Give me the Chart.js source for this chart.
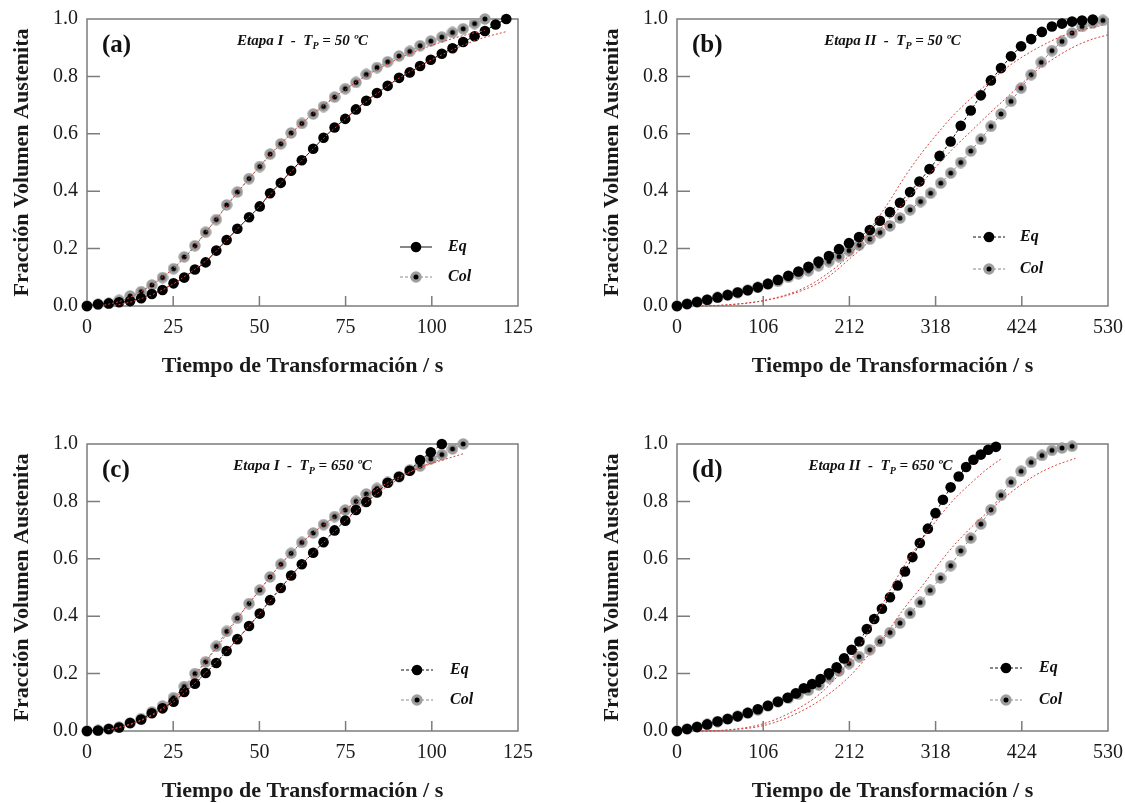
<!DOCTYPE html>
<html>
<head>
<meta charset="utf-8">
<title>Fracción Volumen Austenita</title>
<script src="https://cdn.jsdelivr.net/npm/chart.js@4.4.1/dist/chart.umd.min.js"></script>
<style>
  html, body { margin: 0; padding: 0; background: #fff; overflow: hidden; }
  #wrap { position: relative; width: 1125px; height: 803px; }
  .panel { position: absolute; width: 535px; height: 380px; }
</style>
</head>
<body>
<div id="wrap">
  <div class="panel" style="left:0;top:0"><canvas id="chart-a" width="535" height="380"></canvas></div>
  <div class="panel" style="left:590px;top:0"><canvas id="chart-b" width="535" height="380"></canvas></div>
  <div class="panel" style="left:0;top:425px"><canvas id="chart-c" width="535" height="380"></canvas></div>
  <div class="panel" style="left:590px;top:425px"><canvas id="chart-d" width="535" height="380"></canvas></div>
</div>
<script>
/* Austenite volume fraction vs transformation time, four panels */

// ── Axis ticks ──
var yTicks = [0, 0.2, 0.4, 0.6, 0.8, 1.0];
var xTicksI = [0, 25, 50, 75, 100, 125];
var xTicksII = [0, 106, 212, 318, 424, 530];

// ── (a) Etapa I, TP = 50 ºC ──
var aEqT = [0, 3.2, 6.3, 9.3, 12.5, 15.7, 18.8, 21.9, 25.1, 28.2, 31.3, 34.4, 37.5, 40.5, 43.6, 47.0, 50.1, 53.1, 56.2, 59.2, 62.3, 65.6, 68.6, 71.8, 74.9, 78.0, 81.0, 84.1, 87.2, 90.5, 93.6, 96.6, 99.7, 102.9, 106.0, 109.1, 112.4, 115.4, 118.5, 121.6];
var aEqF = [0, 0.006, 0.009, 0.013, 0.017, 0.027, 0.042, 0.056, 0.079, 0.099, 0.127, 0.152, 0.193, 0.230, 0.269, 0.309, 0.347, 0.393, 0.429, 0.471, 0.508, 0.548, 0.586, 0.622, 0.652, 0.685, 0.715, 0.742, 0.767, 0.795, 0.814, 0.836, 0.858, 0.879, 0.898, 0.920, 0.940, 0.958, 0.981, 1.0];
var aColT = [0, 3.2, 6.3, 9.3, 12.5, 15.7, 18.8, 21.9, 25.1, 28.2, 31.3, 34.4, 37.5, 40.5, 43.6, 47.0, 50.1, 53.1, 56.2, 59.2, 62.3, 65.6, 68.6, 71.8, 74.9, 78.0, 81.0, 84.1, 87.2, 90.5, 93.6, 96.6, 99.7, 102.9, 106.0, 109.1, 112.4, 115.4];
var aColF = [0, 0.006, 0.009, 0.020, 0.035, 0.050, 0.073, 0.099, 0.130, 0.171, 0.210, 0.257, 0.301, 0.352, 0.397, 0.444, 0.486, 0.529, 0.565, 0.603, 0.636, 0.669, 0.695, 0.728, 0.757, 0.779, 0.807, 0.831, 0.851, 0.871, 0.887, 0.907, 0.923, 0.937, 0.953, 0.966, 0.984, 1.0];
var aEqFitT = [8, 12, 16, 20, 25, 30, 35, 40, 45, 50, 55, 60, 65, 70, 75, 80, 85, 90, 95, 100, 105, 110, 115, 121.6];
var aEqFitF = [0.002, 0.012, 0.027, 0.045, 0.077, 0.117, 0.163, 0.222, 0.286, 0.347, 0.413, 0.478, 0.540, 0.600, 0.652, 0.703, 0.748, 0.790, 0.826, 0.858, 0.887, 0.913, 0.935, 0.956];
var aColFitT = [5, 10, 15, 20, 25, 30, 35, 40, 45, 50, 55, 60, 65, 70, 75, 80, 85, 90, 95, 100, 105, 110, 115.4];
var aColFitF = [0.003, 0.018, 0.045, 0.085, 0.130, 0.190, 0.265, 0.340, 0.415, 0.485, 0.550, 0.610, 0.665, 0.712, 0.755, 0.795, 0.830, 0.860, 0.886, 0.908, 0.928, 0.945, 0.960];

// ── (b) Etapa II, TP = 50 ºC ──
var bEqT = [0, 12.4, 24.7, 37.1, 49.9, 62.3, 74.6, 87.0, 99.4, 111.8, 124.1, 136.9, 149.3, 161.6, 174.0, 186.8, 199.2, 211.5, 223.9, 237.1, 249.5, 261.9, 274.2, 286.6, 298.1, 310.5, 322.9, 336.5, 348.9, 361.2, 373.6, 386.0, 398.4, 410.7, 423.1, 435.5, 448.7, 461.0, 473.4, 485.8, 498.1, 511.3];
var bEqF = [0, 0.007, 0.014, 0.022, 0.030, 0.038, 0.047, 0.055, 0.065, 0.077, 0.091, 0.105, 0.120, 0.137, 0.155, 0.174, 0.198, 0.219, 0.240, 0.265, 0.297, 0.327, 0.360, 0.397, 0.434, 0.477, 0.523, 0.573, 0.628, 0.681, 0.734, 0.786, 0.829, 0.870, 0.905, 0.930, 0.955, 0.974, 0.984, 0.991, 0.995, 0.998];
var bColT = [0, 12.4, 24.7, 37.1, 49.9, 62.3, 74.6, 87.0, 99.4, 111.8, 124.1, 136.9, 149.3, 161.6, 174.0, 186.8, 199.2, 211.5, 223.9, 237.1, 249.5, 261.9, 274.2, 286.6, 299.5, 311.8, 324.3, 336.5, 348.9, 361.2, 373.6, 386.0, 398.4, 410.7, 423.1, 435.5, 447.9, 461.0, 473.4, 485.8, 498.1, 511.3, 523.7];
var bColF = [0, 0.007, 0.014, 0.021, 0.030, 0.038, 0.047, 0.056, 0.065, 0.076, 0.086, 0.100, 0.112, 0.123, 0.140, 0.155, 0.172, 0.193, 0.212, 0.233, 0.256, 0.279, 0.306, 0.335, 0.364, 0.393, 0.428, 0.463, 0.500, 0.540, 0.581, 0.626, 0.669, 0.713, 0.759, 0.806, 0.849, 0.890, 0.922, 0.951, 0.974, 0.986, 0.995];
var bEqFitT = [30, 60, 108, 150, 176, 213, 238, 260, 280, 300, 320, 340, 362, 386, 410, 444, 478, 510, 523];
var bEqFitF = [0, 0.004, 0.020, 0.055, 0.095, 0.180, 0.270, 0.360, 0.450, 0.530, 0.600, 0.665, 0.725, 0.785, 0.840, 0.900, 0.945, 0.970, 0.978];
var bColFitT = [30, 60, 108, 150, 180, 213, 238, 260, 280, 300, 320, 340, 362, 382, 403, 424, 444, 465, 486, 508, 530];
var bColFitF = [0, 0.003, 0.019, 0.050, 0.090, 0.166, 0.230, 0.300, 0.362, 0.425, 0.490, 0.550, 0.610, 0.665, 0.720, 0.775, 0.825, 0.865, 0.900, 0.927, 0.945];

// ── (c) Etapa I, TP = 650 ºC ──
var cEqT = [0, 3.2, 6.3, 9.3, 12.5, 15.7, 18.8, 21.9, 25.1, 28.2, 31.3, 34.4, 37.5, 40.5, 43.6, 47.0, 50.1, 53.1, 56.2, 59.2, 62.3, 65.6, 68.6, 71.8, 74.9, 78.0, 81.0, 84.1, 87.2, 90.5, 93.6, 96.6, 99.7, 102.9];
var cEqF = [0, 0.002, 0.007, 0.012, 0.028, 0.040, 0.062, 0.079, 0.102, 0.136, 0.165, 0.202, 0.237, 0.279, 0.320, 0.366, 0.409, 0.456, 0.498, 0.542, 0.581, 0.621, 0.658, 0.699, 0.733, 0.770, 0.798, 0.831, 0.865, 0.886, 0.907, 0.944, 0.971, 1.0];
var cColT = [0, 3.2, 6.3, 9.3, 12.5, 15.7, 18.8, 21.9, 25.1, 28.2, 31.3, 34.4, 37.5, 40.5, 43.6, 47.0, 50.1, 53.1, 56.2, 59.2, 62.3, 65.6, 68.6, 71.8, 74.9, 78.0, 81.0, 84.1, 87.2, 90.5, 93.6, 96.6, 99.7, 102.9, 106.0, 109.1];
var cColF = [0, 0.002, 0.007, 0.014, 0.028, 0.043, 0.066, 0.087, 0.116, 0.155, 0.200, 0.241, 0.295, 0.347, 0.393, 0.444, 0.491, 0.537, 0.581, 0.619, 0.657, 0.690, 0.719, 0.747, 0.770, 0.800, 0.826, 0.845, 0.866, 0.886, 0.909, 0.923, 0.948, 0.963, 0.983, 1.0];
var cEqFitT = [6, 10, 15, 20, 25, 30, 35, 40, 45, 50, 55, 60, 65, 70, 75, 80, 85, 90, 95, 100, 102.9];
var cEqFitF = [0.004, 0.014, 0.033, 0.062, 0.100, 0.152, 0.210, 0.272, 0.338, 0.408, 0.480, 0.552, 0.615, 0.673, 0.733, 0.785, 0.835, 0.875, 0.910, 0.935, 0.948];
var cColFitT = [6, 10, 15, 20, 25, 30, 35, 40, 45, 50, 55, 60, 65, 70, 75, 80, 85, 90, 95, 100, 105, 109.1];
var cColFitF = [0.004, 0.015, 0.035, 0.065, 0.110, 0.175, 0.250, 0.330, 0.415, 0.490, 0.565, 0.630, 0.685, 0.730, 0.772, 0.812, 0.850, 0.882, 0.910, 0.932, 0.951, 0.966];

// ── (d) Etapa II, TP = 650 ºC ──
var dEqT = [0, 12.4, 24.7, 37.1, 49.9, 62.3, 74.6, 87.0, 99.4, 111.8, 124.1, 136.1, 146.0, 155.9, 166.2, 176.5, 186.8, 196.3, 205.4, 214.8, 224.3, 233.4, 242.5, 252.0, 261.9, 271.3, 280.4, 289.5, 298.6, 308.5, 317.9, 327.0, 336.5, 346.4, 355.5, 364.5, 373.6, 382.7, 392.2];
var dEqF = [0, 0.007, 0.014, 0.023, 0.033, 0.042, 0.051, 0.063, 0.076, 0.088, 0.102, 0.116, 0.131, 0.149, 0.164, 0.181, 0.201, 0.222, 0.253, 0.283, 0.312, 0.355, 0.390, 0.426, 0.466, 0.507, 0.556, 0.606, 0.655, 0.705, 0.759, 0.806, 0.849, 0.887, 0.920, 0.945, 0.963, 0.980, 0.990];
var dColT = [0, 12.4, 24.7, 37.1, 49.9, 62.3, 74.6, 87.0, 99.4, 111.8, 124.1, 136.9, 149.3, 161.6, 174.4, 186.8, 199.2, 211.5, 223.9, 237.1, 249.5, 261.9, 274.2, 286.6, 299.0, 311.3, 324.1, 336.5, 348.9, 361.2, 373.6, 386.0, 398.4, 410.7, 423.1, 435.5, 448.7, 461.0, 473.4, 485.8];
var dColF = [0, 0.007, 0.014, 0.023, 0.033, 0.042, 0.052, 0.062, 0.073, 0.087, 0.102, 0.114, 0.128, 0.142, 0.160, 0.186, 0.209, 0.235, 0.259, 0.283, 0.312, 0.343, 0.376, 0.410, 0.448, 0.490, 0.533, 0.576, 0.628, 0.672, 0.721, 0.771, 0.821, 0.867, 0.905, 0.936, 0.960, 0.978, 0.986, 0.992];
var dEqFitT = [30, 60, 108, 150, 180, 214, 238, 258, 278, 298, 318, 340, 362, 380, 399];
var dEqFitF = [0, 0.003, 0.027, 0.080, 0.140, 0.250, 0.360, 0.470, 0.570, 0.655, 0.730, 0.805, 0.865, 0.910, 0.949];
var dColFitT = [30, 60, 108, 150, 180, 212, 240, 260, 280, 300, 320, 340, 362, 385, 410, 440, 465, 490];
var dColFitF = [0, 0.003, 0.020, 0.065, 0.115, 0.190, 0.280, 0.350, 0.430, 0.500, 0.575, 0.645, 0.710, 0.770, 0.830, 0.890, 0.925, 0.950];

(function() {
  'use strict';

  var SERIF = "'Liberation Serif', 'Times New Roman', serif";
  var FIT_RED = '#d4443c';
  var COL_GRAY = '#9e9e9e';
  var FRAME = '#7c7c7c';

  // ── Col marker: gray disc with black core ──
  function makeColMarker() {
    var c = document.createElement('canvas');
    c.width = 12; c.height = 12;
    var g = c.getContext('2d');
    g.fillStyle = COL_GRAY;
    g.beginPath(); g.arc(6, 6, 5.7, 0, Math.PI * 2); g.fill();
    g.fillStyle = '#000';
    g.beginPath(); g.arc(6, 6, 2.5, 0, Math.PI * 2); g.fill();
    return c;
  }
  var colMarker = makeColMarker();

  function pts(t, f) {
    var out = [];
    for (var i = 0; i < t.length; i++) out.push({ x: t[i], y: f[i] });
    return out;
  }

  // ── Frame, inner ticks, panel letter, stage label and legend ──
  var panelDecor = {
    id: 'panelDecor',
    beforeDatasetsDraw: function(chart, args, o) {
      var a = chart.chartArea, ctx = chart.ctx;
      var xs = chart.scales.x, ys = chart.scales.y;
      ctx.save();
      ctx.strokeStyle = FRAME;
      ctx.lineWidth = 1.5;
      ctx.strokeRect(a.left, a.top, a.right - a.left, a.bottom - a.top);
      ctx.beginPath();
      xs.ticks.forEach(function(t) {
        if (t.value === xs.min || t.value === xs.max) return;
        var px = xs.getPixelForValue(t.value);
        ctx.moveTo(px, a.bottom); ctx.lineTo(px, a.bottom - 10);
      });
      ys.ticks.forEach(function(t) {
        if (t.value === ys.min || t.value === ys.max) return;
        var py = ys.getPixelForValue(t.value);
        ctx.moveTo(a.left, py); ctx.lineTo(a.left + 13, py);
      });
      ctx.stroke();
      ctx.restore();
    },
    afterDraw: function(chart, args, o) {
      if (!o.letter) return;
      var a = chart.chartArea, ctx = chart.ctx;
      ctx.save();
      ctx.fillStyle = '#111';

      // panel letter
      ctx.font = 'bold 25px ' + SERIF;
      ctx.textBaseline = 'alphabetic';
      ctx.textAlign = 'left';
      ctx.fillText('(' + o.letter + ')', a.left + 15, a.top + 33);

      // stage label with subscript P
      var big = 'bold italic 15px ' + SERIF, small = 'bold italic 10px ' + SERIF;
      var s1 = 'Etapa ' + o.stage + '  -  T', s2 = 'P', s3 = ' = ' + o.temp + ' ºC';
      ctx.font = big; var w1 = ctx.measureText(s1).width, w3 = ctx.measureText(s3).width;
      ctx.font = small; var w2 = ctx.measureText(s2).width;
      var x0 = (a.left + a.right) / 2 - (w1 + w2 + w3) / 2 + (o.stageShift || 0);
      var yb = a.top + 26;
      ctx.font = big; ctx.fillText(s1, x0, yb);
      ctx.font = small; ctx.fillText(s2, x0 + w1, yb + 4);
      ctx.font = big; ctx.fillText(s3, x0 + w1 + w2, yb);

      // legend
      var L = o.legend;
      var mx = a.right - L.marker, tx = a.right - L.text;
      var rows = [
        { y: a.bottom - L.row1, label: 'Eq', color: '#111', dash: o.eqSolid ? [] : [3, 2], col: false },
        { y: a.bottom - L.row2, label: 'Col', color: '#8a8a8a', dash: [3, 2], col: true }
      ];
      rows.forEach(function(r) {
        ctx.strokeStyle = r.color;
        ctx.lineWidth = 1;
        ctx.setLineDash(r.dash);
        ctx.beginPath(); ctx.moveTo(mx - 16, r.y); ctx.lineTo(mx + 16, r.y); ctx.stroke();
        ctx.setLineDash([]);
        if (r.col) {
          ctx.drawImage(colMarker, mx - 6, r.y - 6);
        } else {
          ctx.fillStyle = '#000';
          ctx.beginPath(); ctx.arc(mx, r.y, 5.3, 0, Math.PI * 2); ctx.fill();
        }
        ctx.fillStyle = '#111';
        ctx.font = 'bold italic 16px ' + SERIF;
        ctx.textBaseline = 'middle';
        ctx.fillText(r.label, tx, r.y);
      });
      ctx.restore();
    }
  };
  Chart.register(panelDecor);

  // ── Build one panel ──
  function buildPanel(canvasId, p) {
    var eqDash = p.eqSolid ? [] : [3, 2];
    var ctx = document.getElementById(canvasId).getContext('2d');
    return new Chart(ctx, {
      type: 'line',
      data: {
        datasets: [
          { data: pts(p.eqFitT, p.eqFitF), borderColor: FIT_RED, borderWidth: 1, borderDash: [2, 2],
            pointRadius: 0, cubicInterpolationMode: 'monotone', clip: false },
          { data: pts(p.colFitT, p.colFitF), borderColor: FIT_RED, borderWidth: 1, borderDash: [2, 2],
            pointRadius: 0, cubicInterpolationMode: 'monotone', clip: false },
          { data: pts(p.eqT, p.eqF), borderColor: '#111', borderWidth: 1, borderDash: eqDash,
            pointStyle: 'circle', pointRadius: 5.3, pointBackgroundColor: '#000', pointBorderWidth: 0, clip: false },
          { data: pts(p.colT, p.colF), borderColor: '#8a8a8a', borderWidth: 1, borderDash: [3, 2],
            pointStyle: colMarker, pointRadius: 6, clip: false }
        ]
      },
      options: {
        responsive: false,
        animation: false,
        events: [],
        layout: { padding: { left: 9, right: 17, top: 19, bottom: 0 } },
        plugins: {
          legend: { display: false },
          tooltip: { enabled: false },
          panelDecor: { letter: p.letter, stage: p.stage, temp: p.temp, eqSolid: p.eqSolid,
                        legend: p.legend, stageShift: p.stageShift || 0 }
        },
        scales: {
          x: {
            type: 'linear', min: p.xTicks[0], max: p.xTicks[p.xTicks.length - 1],
            afterBuildTicks: function(s) { s.ticks = p.xTicks.map(function(v) { return { value: v }; }); },
            afterFit: function(s) { s.height = 74; s.paddingLeft = 0; s.paddingRight = 0; },
            grid: { display: false, drawTicks: false },
            border: { display: false },
            ticks: { font: { family: SERIF, size: 20 }, color: '#1a1a1a', padding: 10, maxRotation: 0, autoSkip: false },
            title: { display: true, text: 'Tiempo de Transformación / s', color: '#1a1a1a', padding: 0,
                     font: { family: SERIF, size: 22, weight: 'bold' } }
          },
          y: {
            type: 'linear', min: 0, max: 1,
            afterBuildTicks: function(s) { s.ticks = yTicks.map(function(v) { return { value: v }; }); },
            afterFit: function(s) { s.width = 78; s.paddingTop = 0; s.paddingBottom = 0; },
            grid: { display: false, drawTicks: false },
            border: { display: false },
            ticks: { font: { family: SERIF, size: 20 }, color: '#1a1a1a', padding: 9,
                     callback: function(v) { return v.toFixed(1); } },
            title: { display: true, text: 'Fracción Volumen Austenita', color: '#1a1a1a', padding: 0,
                     font: { family: SERIF, size: 22, weight: 'bold' } }
          }
        }
      }
    });
  }

  buildPanel('chart-a', {
    letter: 'a', stage: 'I', temp: '50', eqSolid: true, xTicks: xTicksI,
    eqT: aEqT, eqF: aEqF, colT: aColT, colF: aColF,
    eqFitT: aEqFitT, eqFitF: aEqFitF, colFitT: aColFitT, colFitF: aColFitF,
    legend: { marker: 102, text: 70, row1: 59, row2: 29 }
  });
  buildPanel('chart-b', {
    letter: 'b', stage: 'II', temp: '50', eqSolid: false, xTicks: xTicksII,
    eqT: bEqT, eqF: bEqF, colT: bColT, colF: bColF,
    eqFitT: bEqFitT, eqFitF: bEqFitF, colFitT: bColFitT, colFitF: bColFitF,
    legend: { marker: 119, text: 88, row1: 69, row2: 37 }
  });
  buildPanel('chart-c', {
    letter: 'c', stage: 'I', temp: '650', eqSolid: false, xTicks: xTicksI,
    eqT: cEqT, eqF: cEqF, colT: cColT, colF: cColF,
    eqFitT: cEqFitT, eqFitF: cEqFitF, colFitT: cColFitT, colFitF: cColFitF,
    legend: { marker: 101, text: 68, row1: 61, row2: 31 }
  });
  buildPanel('chart-d', {
    letter: 'd', stage: 'II', temp: '650', eqSolid: false, xTicks: xTicksII, stageShift: -12,
    eqT: dEqT, eqF: dEqF, colT: dColT, colF: dColF,
    eqFitT: dEqFitT, eqFitF: dEqFitF, colFitT: dColFitT, colFitF: dColFitF,
    legend: { marker: 102, text: 69, row1: 63, row2: 31 }
  });

})();
</script>
</body>
</html>
